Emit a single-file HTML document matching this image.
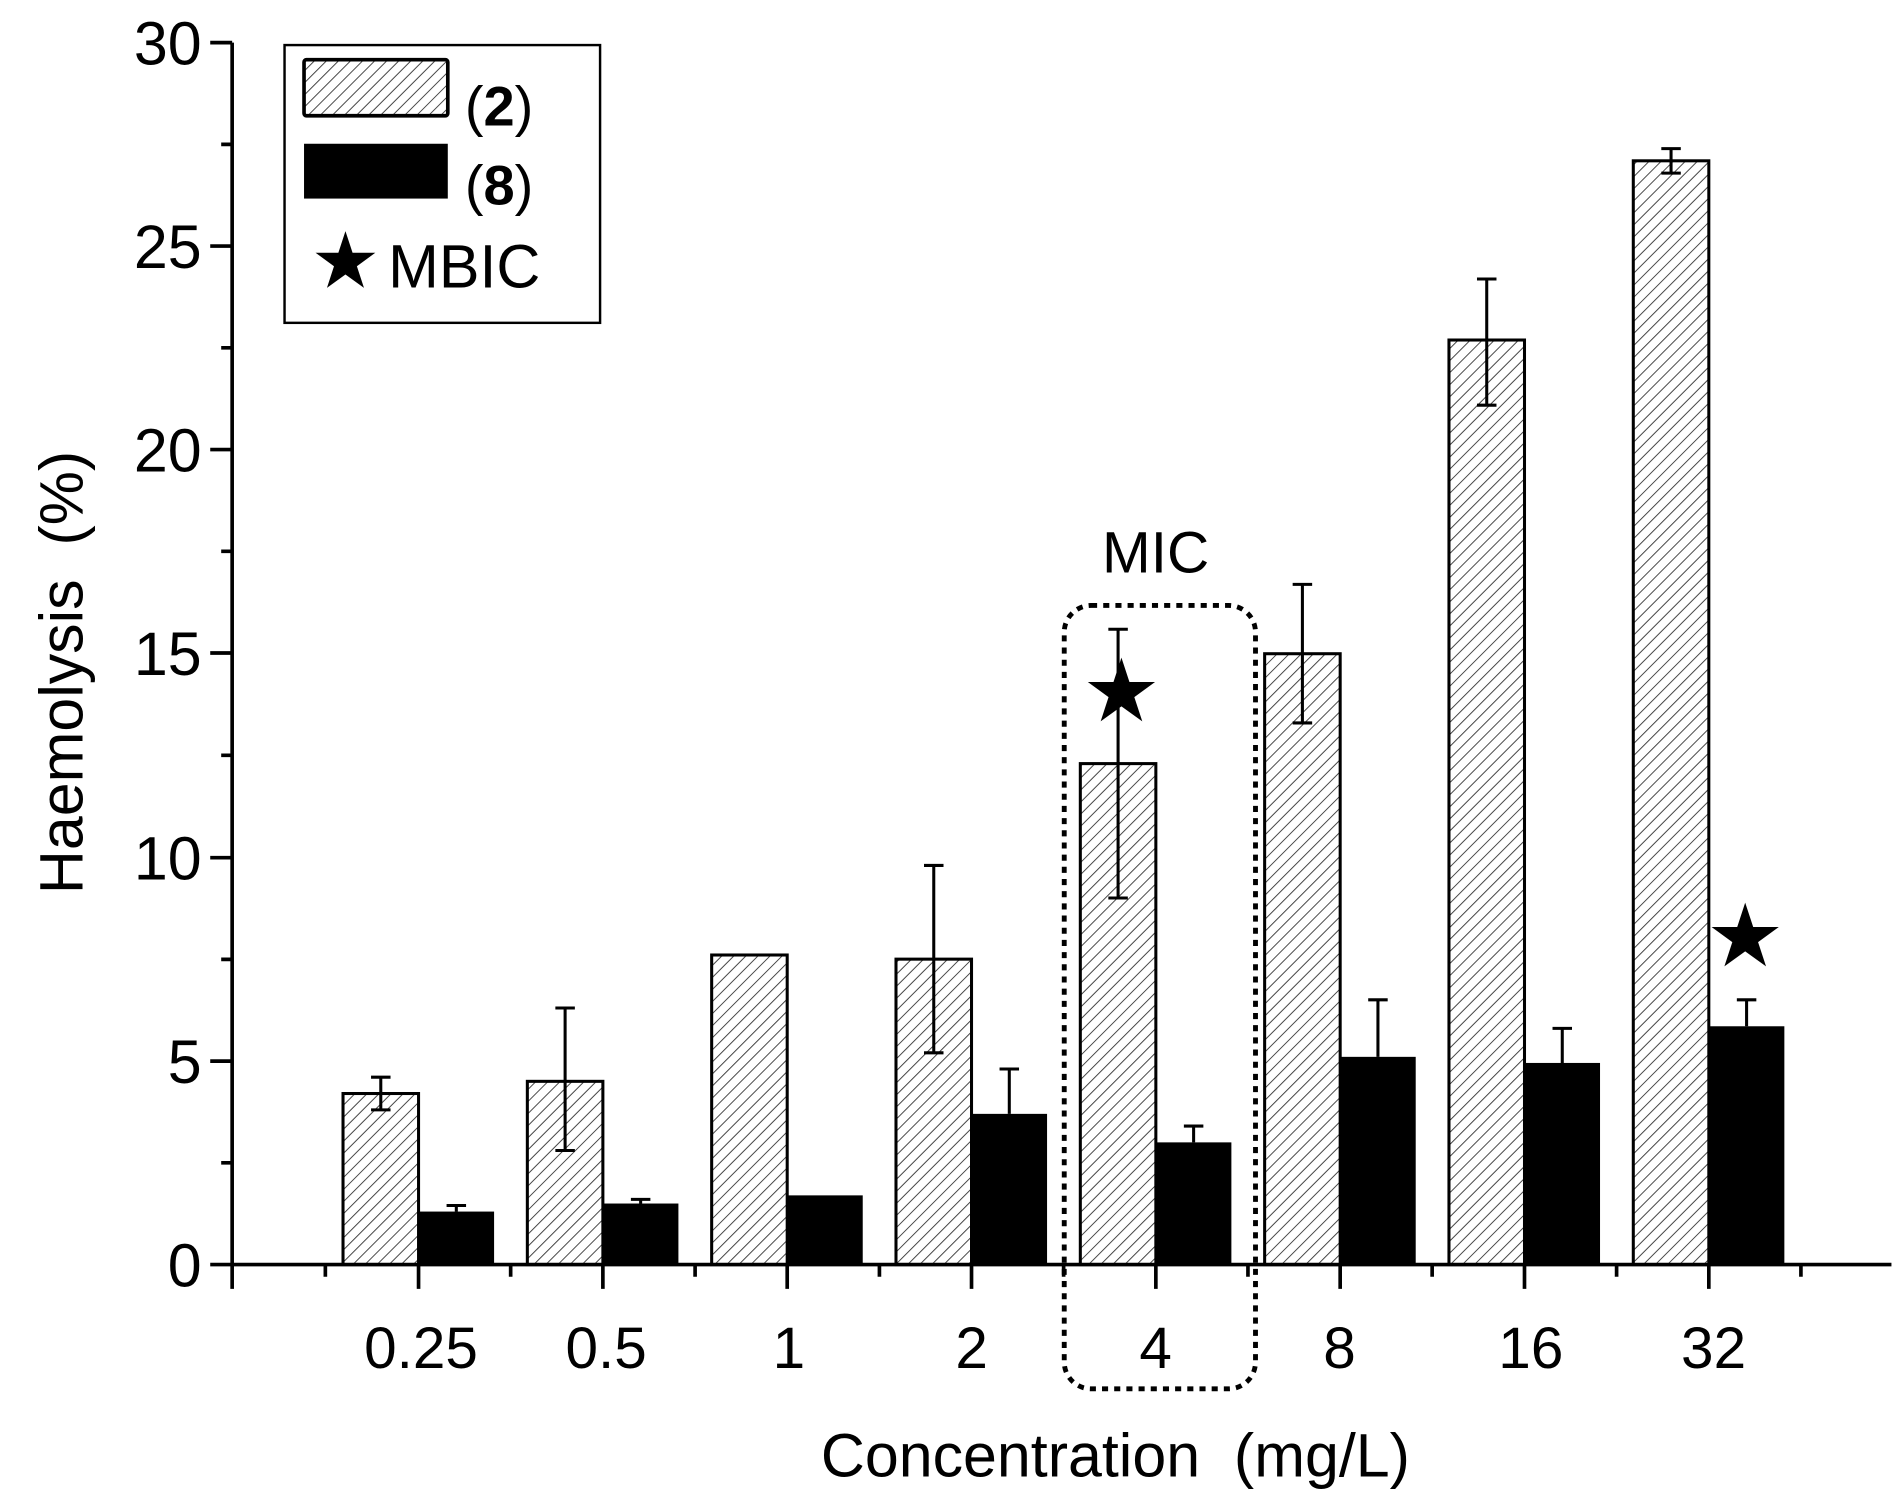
<!DOCTYPE html>
<html><head><style>html,body{margin:0;padding:0;background:#fff}svg{display:block}</style></head>
<body>
<svg width="1897" height="1507" viewBox="0 0 1556 1237" xmlns="http://www.w3.org/2000/svg" font-family="Liberation Sans, Arial, sans-serif">
<defs>
<pattern id="h" patternUnits="userSpaceOnUse" width="7" height="7" patternTransform="rotate(45)">
<rect width="7" height="7" fill="#fff"/>
<line x1="0" y1="0" x2="0" y2="7" stroke="#444" stroke-width="1.6"/>
</pattern>
</defs>
<rect width="1556" height="1237" fill="#fff"/>
<g stroke="#000" stroke-width="2.5" fill="url(#h)">
<rect x="281" y="897.6" width="62" height="140.4"/>
<rect x="432.3" y="887.6" width="62" height="150.4"/>
<rect x="583.6" y="783.9" width="62" height="254.1"/>
<rect x="734.9" y="787.3" width="62" height="250.7"/>
<rect x="886.2" y="626.8" width="62" height="411.2"/>
<rect x="1037.5" y="536.6" width="62" height="501.4"/>
<rect x="1188.8" y="279.1" width="62" height="758.9"/>
<rect x="1340.1" y="132" width="62" height="906"/>
</g>
<g fill="#000">
<rect x="343" y="994.5" width="62" height="43.5"/>
<rect x="494.3" y="987.9" width="62" height="50.1"/>
<rect x="645.6" y="981.2" width="62" height="56.8"/>
<rect x="796.9" y="914.3" width="62" height="123.7"/>
<rect x="948.2" y="937.7" width="62" height="100.3"/>
<rect x="1099.5" y="867.5" width="62" height="170.5"/>
<rect x="1250.8" y="872.5" width="62" height="165.5"/>
<rect x="1402.1" y="842.4" width="62" height="195.6"/>
</g>
<g stroke="#000" stroke-width="2.5" fill="none">
<path d="M312 884.2V911M304 884.2H320M304 911H320"/>
<path d="M463.3 827.4V944.4M455.3 827.4H471.3M455.3 944.4H471.3"/>
<path d="M765.9 710.4V864.2M757.9 710.4H773.9M757.9 864.2H773.9"/>
<path d="M917.2 516.5V737.1M909.2 516.5H925.2M909.2 737.1H925.2"/>
<path d="M1068.5 479.7V593.4M1060.5 479.7H1076.5M1060.5 593.4H1076.5"/>
<path d="M1219.8 229V332.6M1211.8 229H1227.8M1211.8 332.6H1227.8"/>
<path d="M1371.1 122V142.1M1363.1 122H1379.1M1363.1 142.1H1379.1"/>
<path d="M374 989.5V994.5M366 989.5H382"/>
<path d="M525.3 984.5V988M517.3 984.5H533.3"/>
<path d="M827.9 877.5V914.3M819.9 877.5H835.9"/>
<path d="M979.2 924.3V937.7M971.2 924.3H987.2"/>
<path d="M1130.5 820.7V867.5M1122.5 820.7H1138.5"/>
<path d="M1281.8 844.1V872.5M1273.8 844.1H1289.8"/>
<path d="M1433.1 820.7V842.4M1425.1 820.7H1441.1"/>
</g>
<g stroke="#000" stroke-width="3" fill="none">
<path d="M190 35V1038M172 1038H1552"/>
<path d="M172 35H190M172 202H190M172 369H190M172 536H190M172 704H190M172 871H190"/>
<path d="M181 118.5H190M181 285.5H190M181 452.5H190M181 620H190M181 787.5H190M181 954.5H190"/>
<path d="M190 1038V1058M343 1038V1058M494.3 1038V1058M645.6 1038V1058M796.9 1038V1058M948.2 1038V1058M1099.5 1038V1058M1250.8 1038V1058M1402.1 1038V1058"/>
<path d="M266.5 1038V1048M418.6 1038V1048M570 1038V1048M721.3 1038V1048M872.5 1038V1048M1023.8 1038V1048M1175 1038V1048M1326.4 1038V1048M1477.7 1038V1048"/>
</g>
<g font-size="50" text-anchor="end" fill="#000">
<text x="165" y="53">30</text>
<text x="165" y="220">25</text>
<text x="165" y="387">20</text>
<text x="165" y="554">15</text>
<text x="165" y="722">10</text>
<text x="165" y="889">5</text>
<text x="165" y="1056">0</text>
</g>
<g font-size="48" text-anchor="middle" fill="#000">
<text x="345" y="1123">0.25</text>
<text x="497" y="1123">0.5</text>
<text x="647" y="1123">1</text>
<text x="797" y="1123">2</text>
<text x="948" y="1123">4</text>
<text x="1099" y="1123">8</text>
<text x="1256" y="1123">16</text>
<text x="1406" y="1123">32</text>
</g>
<text x="915" y="1212" font-size="50" text-anchor="middle">Concentration&#160;&#160;(mg/L)</text>
<text transform="translate(67,552) rotate(-90)" font-size="50" text-anchor="middle">Haemolysis&#160;&#160;(%)</text>
<text x="948" y="470" font-size="48" text-anchor="middle">MIC</text>
<rect x="873" y="497" width="157" height="643" rx="22" fill="none" stroke="#000" stroke-width="4" stroke-dasharray="5,5"/>
<g fill="#000">
<text x="920" y="592" font-size="72" text-anchor="middle" font-family="DejaVu Sans, sans-serif">★</text>
<text x="1432" y="793" font-size="72" text-anchor="middle" font-family="DejaVu Sans, sans-serif">★</text>
</g>
<rect x="233" y="37" width="259" height="228" fill="#fff" stroke="#000" stroke-width="2"/>
<rect x="249" y="49" width="118" height="46" fill="url(#h)" stroke="#000" stroke-width="3" rx="2"/>
<rect x="249" y="118" width="118" height="45" fill="#000"/>
<text x="381" y="103" font-size="46">(<tspan font-weight="bold">2</tspan>)</text>
<text x="381" y="168" font-size="46">(<tspan font-weight="bold">8</tspan>)</text>
<text x="283" y="236" font-size="64" text-anchor="middle" font-family="DejaVu Sans, sans-serif">★</text>
<text x="318" y="236" font-size="50">MBIC</text>
</svg>
</body></html>
